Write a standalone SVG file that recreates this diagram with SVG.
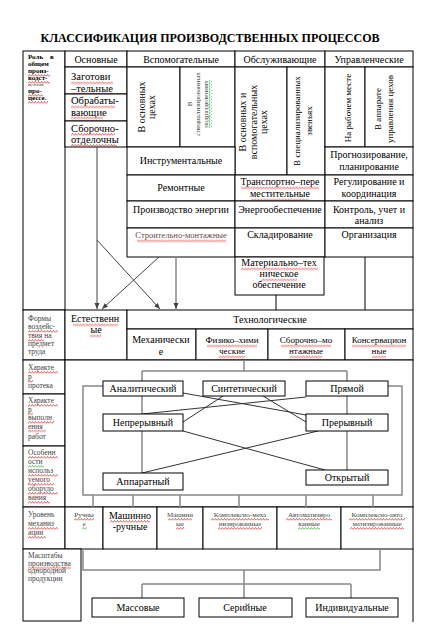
<svg xmlns="http://www.w3.org/2000/svg" width="421" height="627" viewBox="0 0 421 627">
<defs>
<style>
text{font-family:"Liberation Serif","Times New Roman",serif;font-size:10px;fill:#000;text-anchor:middle}
.h{font-size:12px;font-weight:bold}
.s{font-size:7.5px;fill:#444;text-anchor:start}
.rb{font-size:7px;font-weight:bold;text-anchor:start;word-spacing:5px}
.m{font-size:10.5px;text-anchor:start}
.v{font-size:7px;fill:#444}
.r9{font-size:9px}
.c{fill:#fff;stroke:#000;stroke-width:1}
.n{fill:none;stroke:#000;stroke-width:1}
.g{fill:none;stroke:#888;stroke-width:1.5}
.k{fill:none;stroke:#333;stroke-width:1}
.w{fill:url(#wv)}
.wg{fill:url(#wg)}
</style>
<pattern id="wv" width="3" height="3" patternUnits="userSpaceOnUse"><path d="M0,2.5L1.5,0.5L3,2.5" fill="none" stroke="#d22" stroke-width="0.7"/></pattern>
<pattern id="wg" width="3" height="3" patternUnits="userSpaceOnUse"><path d="M0,2.5L1.5,0.5L3,2.5" fill="none" stroke="#3a3" stroke-width="0.7"/></pattern>
<marker id="ar" markerWidth="6" markerHeight="6" refX="6" refY="3" orient="auto" markerUnits="userSpaceOnUse"><path d="M0,0.5L6,3L0,5.5z" fill="#444"/></marker>
</defs>
<rect width="421" height="627" fill="#fff"/>
<text class="h" x="210" y="42">КЛАССИФИКАЦИЯ ПРОИЗВОДСТВЕННЫХ ПРОЦЕССОВ</text>

<g id="role">
<rect class="c" x="23" y="51" width="42" height="259"/>
<text class="rb" x="28" y="59">Роль в</text>
<text class="rb" x="28" y="66">общем</text>
<text class="rb" x="28" y="73">произ-</text><rect class="w" transform="translate(28,74)" width="22" height="3"/>
<text class="rb" x="28" y="80">водст-</text><rect class="w" transform="translate(28,81)" width="22" height="3"/>
<text class="s" x="28" y="86" style="font-size:5px">венном</text>
<text class="rb" x="28" y="93">про-</text><rect class="w" transform="translate(28,94)" width="15" height="3"/>
<text class="rb" x="28" y="100">цессе.</text><rect class="w" transform="translate(28,101)" width="20" height="3"/>
</g>

<g id="h-main"><rect class="c" x="65" y="51" width="62" height="16"/><text x="96" y="63">Основные</text></g>
<g id="h-aux"><rect class="c" x="127" y="51" width="108" height="16"/><text x="181" y="63">Вспомогательные</text></g>
<g id="h-serv"><rect class="c" x="235" y="51" width="90" height="16"/><text x="280" y="63">Обслуживающие</text></g>
<g id="h-mgmt"><rect class="c" x="325" y="51" width="88" height="16"/><text x="369" y="63">Управленческие</text></g>

<g id="main-1"><rect class="c" x="65" y="67" width="62" height="27"/>
<text class="m" x="71" y="80">Заготови</text><rect class="w" transform="translate(71,81.5)" width="42" height="3"/>
<text class="m" x="71" y="91.5">–тельные</text><rect class="w" transform="translate(71,92.5)" width="42" height="3"/></g>
<g id="main-2"><rect class="c" x="65" y="94" width="62" height="27"/>
<text class="m" x="71" y="104">Обрабаты-</text><rect class="w" transform="translate(71,105.5)" width="44" height="3"/>
<text class="m" x="71" y="115.5">вающие</text><rect class="w" transform="translate(71,116.5)" width="32" height="3"/></g>
<g id="main-3"><rect class="c" x="65" y="121" width="62" height="26"/>
<text class="m" x="71" y="131.5">Сборочно-</text><rect class="w" transform="translate(71,133)" width="44" height="3"/>
<text class="m" x="71" y="143">отделочны</text><rect class="w" transform="translate(71,144)" width="46" height="3"/></g>

<g id="aux-1"><rect class="c" x="127" y="67" width="53" height="80"/>
<text transform="translate(145,107) rotate(-90)">В основных</text>
<text transform="translate(155,107) rotate(-90)">цехах</text></g>
<g id="aux-2"><rect class="c" x="180" y="67" width="55" height="80"/>
<text class="v" transform="translate(192,104) rotate(-90)">В</text>
<text class="v" transform="translate(200,104) rotate(-90)">специализированных</text>
<g transform="translate(208,104) rotate(-90)"><text class="v">подразделениях</text><rect class="wg" x="-24" y="1" width="48" height="3"/></g></g>

<g id="serv-1"><rect class="c" x="235" y="67" width="52" height="108"/>
<text transform="translate(246,122) rotate(-90)">В основных и</text>
<text transform="translate(257,122) rotate(-90)">вспомогательных</text>
<text transform="translate(267,122) rotate(-90)">цехах</text></g>
<g id="serv-2"><rect class="c" x="287" y="67" width="38" height="108"/>
<text class="r9" transform="translate(300,121) rotate(-90)">В специализированных</text>
<text class="r9" transform="translate(312,121) rotate(-90)">звеньях</text></g>

<g id="mgmt-1"><rect class="c" x="325" y="67" width="40" height="80"/>
<text class="r9" transform="translate(351,108) rotate(-90)">На рабочем месте</text></g>
<g id="mgmt-2"><rect class="c" x="365" y="67" width="48" height="80"/>
<text class="r9" transform="translate(381,109) rotate(-90)">В аппарате</text>
<text class="r9" transform="translate(393,109) rotate(-90)">управления цехов</text></g>

<g id="tool"><rect class="c" x="127" y="147" width="108" height="28"/><text x="181" y="164">Инструментальные</text></g>
<g id="plan"><rect class="c" x="325" y="147" width="88" height="28"/><text x="369" y="158">Прогнозирование,</text><text x="369" y="170">планирование</text></g>
<g id="repair"><rect class="c" x="127" y="175" width="108" height="26"/><text x="181" y="191">Ремонтные</text></g>
<g id="transport"><rect class="c" x="235" y="175" width="90" height="26"/>
<text x="280" y="185">Транспортно–пере</text><rect class="w" transform="translate(241,186.5)" width="78" height="3"/>
<text x="280" y="197">местительные</text><rect class="w" transform="translate(251,198.5)" width="58" height="3"/></g>
<g id="regul"><rect class="c" x="325" y="175" width="88" height="26"/><text x="369" y="185">Регулирование и</text><text x="369" y="197">координация</text></g>
<g id="energy"><rect class="c" x="127" y="201" width="108" height="27"/><text x="181" y="213">Производство энергии</text></g>
<g id="supply"><rect class="c" x="235" y="201" width="90" height="27"/><text x="280" y="213">Энергообеспечение</text></g>
<g id="control"><rect class="c" x="325" y="201" width="88" height="27"/><text x="369" y="213">Контроль, учет и</text><text x="369" y="224">анализ</text></g>
<g id="build"><rect class="c" x="127" y="228" width="108" height="29"/>
<text x="181" y="238" style="font-size:8.5px;fill:#6a4848">Строительно-монтажные</text><rect class="w" transform="translate(137,239.5)" width="89" height="3"/></g>
<g id="store"><rect class="c" x="235" y="228" width="90" height="29"/><text x="280" y="238">Складирование</text></g>
<g id="org"><rect class="c" x="325" y="228" width="88" height="29"/><text x="369" y="238">Организация</text></g>
<g id="mto"><rect class="c" x="235" y="257" width="89" height="38"/>
<text x="279" y="266">Материально–тех</text><rect class="w" transform="translate(241,267.5)" width="77" height="3"/>
<text x="279" y="277">ническое</text><rect class="w" transform="translate(262,278.5)" width="35" height="3"/>
<text x="279" y="288">обеспечение</text></g>
<path class="n" d="M365,257V310M276,295V310M413,257V310"/>

<g id="forms-label"><rect class="c" x="23" y="310" width="42" height="50"/>
<text class="s" x="28" y="321">Формы</text>
<text class="s" x="28" y="329">воздейс-</text><rect class="w" transform="translate(28,330)" width="30" height="3"/>
<text class="s" x="28" y="338">твия на</text><rect class="w" transform="translate(28,339)" width="16" height="3"/>
<text class="s" x="28" y="346">предмет</text>
<text class="s" x="28" y="354">труда</text></g>
<g id="natural"><rect class="c" x="65" y="310" width="62" height="50"/>
<text x="95" y="322">Естественн</text><rect class="w" transform="translate(73,323.5)" width="45" height="3"/>
<text x="96" y="333">ые</text><rect class="w" transform="translate(90,334.5)" width="11" height="3"/></g>
<g id="tech"><rect class="c" x="127" y="310" width="286" height="19"/><text x="270" y="323">Технологические</text></g>
<g id="mech"><rect class="c" x="127" y="329" width="69" height="31"/><text x="161" y="343">Механически</text><text x="161" y="355">е</text></g>
<g id="phys"><rect class="c" x="196" y="329" width="72" height="31"/>
<text class="r9" x="232" y="343">Физико–хими</text><rect class="w" transform="translate(207,344.5)" width="50" height="3"/>
<text class="r9" x="232" y="354">ческие</text><rect class="w" transform="translate(219,355.5)" width="26" height="3"/></g>
<g id="assembly"><rect class="c" x="268" y="329" width="77" height="31"/>
<text class="r9" x="306" y="343">Сборочно–мо</text><rect class="w" transform="translate(281,344.5)" width="50" height="3"/>
<text class="r9" x="306" y="354">нтажные</text><rect class="w" transform="translate(290,355.5)" width="32" height="3"/></g>
<g id="conserv"><rect class="c" x="345" y="329" width="68" height="31"/>
<text class="r9" x="379" y="343">Консервацион</text><rect class="w" transform="translate(352,344.5)" width="54" height="3"/>
<text class="r9" x="379" y="354">ные</text><rect class="w" transform="translate(372,355.5)" width="14" height="3"/></g>

<g id="flow-label"><rect class="c" x="23" y="360" width="42" height="34"/>
<text class="s" x="28" y="370">Характе</text><rect class="w" transform="translate(28,371)" width="30" height="3"/>
<text class="s" x="28" y="379">р</text><rect class="w" transform="translate(28,380)" width="5" height="3"/>
<text class="s" x="28" y="388">протека</text></g>
<g id="exec-label"><rect class="c" x="23" y="394" width="42" height="52"/>
<text class="s" x="28" y="403">Характе</text><rect class="w" transform="translate(28,404)" width="30" height="3"/>
<text class="s" x="28" y="411.5">р</text><rect class="w" transform="translate(28,412.5)" width="5" height="3"/>
<text class="s" x="28" y="420">выполн</text><rect class="w" transform="translate(28,421)" width="26" height="3"/>
<text class="s" x="28" y="428.5">ения</text><rect class="w" transform="translate(28,429.5)" width="18" height="3"/>
<text class="s" x="28" y="439">работ</text></g>
<g id="equip-label"><rect class="c" x="23" y="446" width="42" height="61"/>
<text class="s" x="28" y="455">Особенн</text><rect class="w" transform="translate(28,456)" width="30" height="3"/>
<text class="s" x="28" y="464">ости</text><rect class="wg" transform="translate(28,465)" width="16" height="3"/>
<text class="s" x="28" y="473">использ</text><rect class="w" transform="translate(28,474)" width="30" height="3"/>
<text class="s" x="28" y="482">уемого</text><rect class="w" transform="translate(28,483)" width="26" height="3"/>
<text class="s" x="28" y="491">оборудо</text><rect class="w" transform="translate(28,492)" width="30" height="3"/>
<text class="s" x="28" y="500">вания</text><rect class="w" transform="translate(28,501)" width="22" height="3"/></g>
<rect id="process-area" class="c" x="65" y="360" width="348" height="147"/>

<g id="level-label"><rect class="c" x="23" y="507" width="42" height="42"/>
<text class="s" x="28" y="517">Уровень</text>
<text class="s" x="28" y="526">механиз</text><rect class="w" transform="translate(28,527)" width="30" height="3"/>
<text class="s" x="28" y="535">ации</text><rect class="w" transform="translate(28,536)" width="18" height="3"/></g>
<g id="manual"><rect class="c" x="65" y="507" width="38" height="42"/>
<text class="v" x="84" y="517">Ручны</text><rect class="w" transform="translate(74,518)" width="20" height="3"/>
<text class="v" x="84" y="526">е</text><rect class="wg" transform="translate(82,527)" width="5" height="3"/></g>
<g id="machine-manual"><rect class="c" x="103" y="507" width="54" height="42"/>
<text x="130" y="519">Машинно</text><rect class="w" transform="translate(110,520)" width="40" height="3"/>
<text x="130" y="530">-ручные</text></g>
<g id="machine"><rect class="c" x="157" y="507" width="46" height="42"/>
<text class="v" x="180" y="517">Машинн</text><rect class="w" transform="translate(168,518)" width="24" height="3"/>
<text class="v" x="180" y="526">ые</text><rect class="w" transform="translate(176,527)" width="8" height="3"/></g>
<g id="complex-mech"><rect class="c" x="203" y="507" width="74" height="42"/>
<text class="v" x="240" y="517">Комплексно-меха</text><rect class="w" transform="translate(211,518)" width="58" height="3"/>
<text class="v" x="240" y="526">низированные</text><rect class="w" transform="translate(218,527)" width="44" height="3"/></g>
<g id="automated"><rect class="c" x="277" y="507" width="64" height="42"/>
<text class="v" x="309" y="517">Автоматизиро</text><rect class="w" transform="translate(286,518)" width="46" height="3"/>
<text class="v" x="309" y="526">ванные</text><rect class="wg" transform="translate(298,527)" width="22" height="3"/></g>
<g id="complex-auto"><rect class="c" x="341" y="507" width="72" height="42"/>
<text class="v" x="377" y="517">Комплексно-авто</text><rect class="w" transform="translate(349,518)" width="56" height="3"/>
<text class="v" x="377" y="526">матизированные</text><rect class="w" transform="translate(350,527)" width="54" height="3"/></g>

<g id="scale-label"><rect class="c" x="23" y="549" width="58" height="72"/>
<text class="s" x="28" y="558">Масштабы</text>
<text class="s" x="28" y="565.5">производства</text><rect class="w" transform="translate(28,566.5)" width="43" height="3"/>
<text class="s" x="28" y="573">однородной</text>
<text class="s" x="28" y="580.5">продукции</text></g>
<path class="n" d="M413,549V622"/>

<g id="connectors">
<path d="M97,147V309" stroke="#444" stroke-width="1" fill="none" marker-end="url(#ar)"/>
<path d="M97,240L160,309" stroke="#444" stroke-width="1" fill="none" marker-end="url(#ar)"/>
<path d="M159,257L102,309" stroke="#444" stroke-width="1" fill="none" marker-end="url(#ar)"/>
<path d="M176,257V309" stroke="#888" stroke-width="1.5" fill="none" marker-end="url(#ar)"/>
<path class="g" d="M244,361V371M142,371H347M142,371V473M347,371V470"/>
<path class="g" d="M103,386H83V495H402V386H388"/>
<path class="g" d="M93,495V507M133,495V507M180,495V507M239,495V507M306,495V507M373,495V507"/>
<path class="k" d="M183,393L306,415M306,397L142,414M223,396L183,422M263,396L306,422M183,431L325,470M318,431L142,473"/>
<path class="g" d="M83,549V570H380V549M244,570V598M142,584H351M142,584V598M351,584V598"/>
</g>

<g id="analytic"><rect class="c" x="103" y="381" width="80" height="15"/><text x="143" y="392">Аналитический</text></g>
<g id="synthetic"><rect class="c" x="203" y="381" width="82" height="15"/><text x="244" y="392">Синтетический</text></g>
<g id="direct"><rect class="c" x="306" y="381" width="82" height="15"/><text x="347" y="392">Прямой</text></g>
<g id="continuous"><rect class="c" x="103" y="414" width="80" height="17"/><text x="143" y="426">Непрерывный</text></g>
<g id="discrete"><rect class="c" x="306" y="414" width="82" height="17"/><text x="347" y="426">Прерывный</text></g>
<g id="apparatus"><rect class="c" x="103" y="473" width="80" height="17"/><text x="143" y="485">Аппаратный</text></g>
<g id="open"><rect class="c" x="306" y="470" width="82" height="15"/><text x="347" y="481">Открытый</text></g>

<g id="mass"><rect class="c" x="92" y="598" width="92" height="19"/><text x="138" y="611">Массовые</text></g>
<g id="serial"><rect class="c" x="199" y="598" width="93" height="19"/><text x="245" y="611">Серийные</text></g>
<g id="single"><rect class="c" x="306" y="598" width="92" height="19"/><text x="352" y="611">Индивидуальные</text></g>
</svg>
